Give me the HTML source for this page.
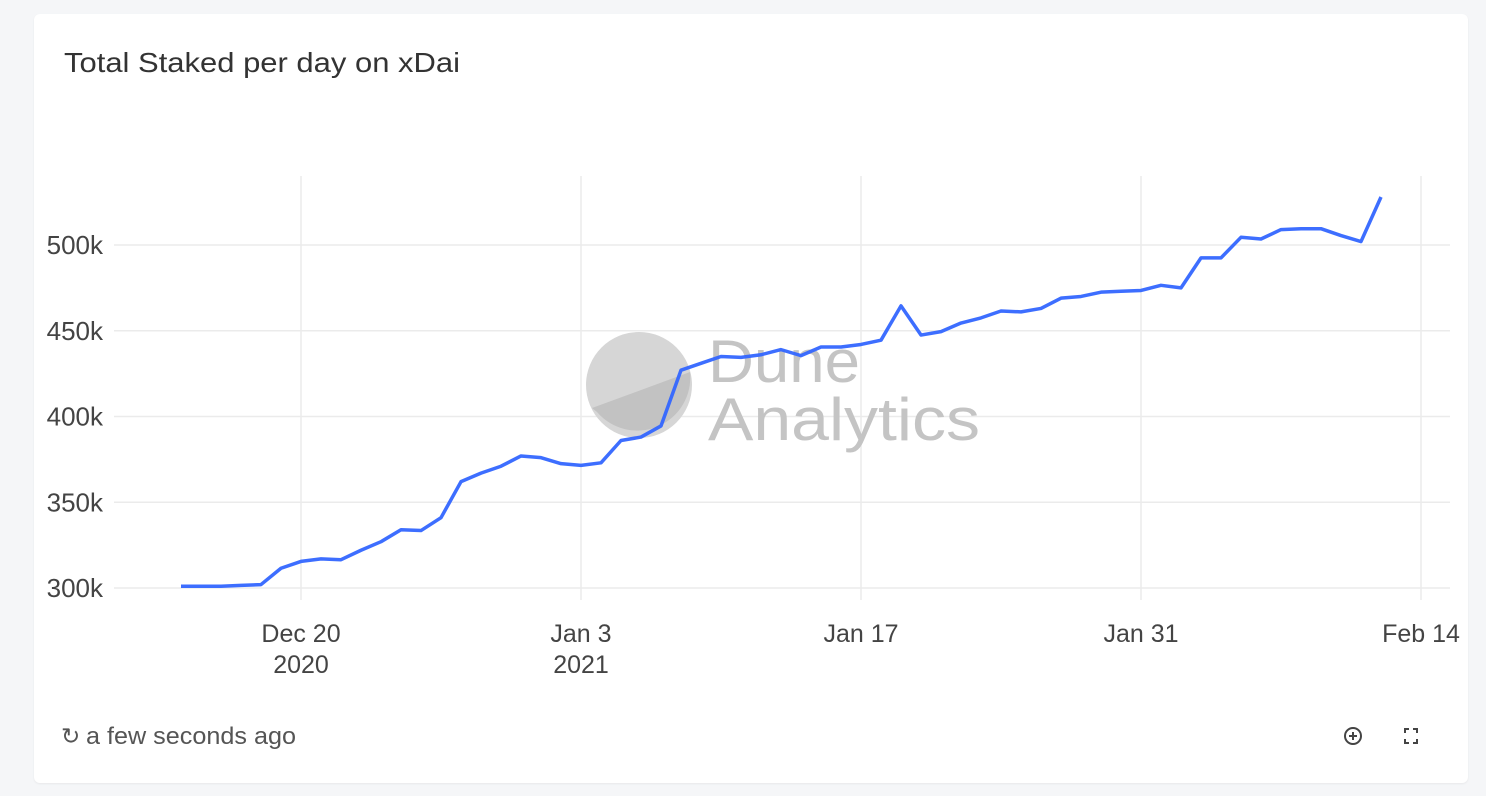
<!DOCTYPE html>
<html><head><meta charset="utf-8"><style>
body{margin:0;width:1486px;height:796px;background:#f5f6f8;font-family:"Liberation Sans",sans-serif;overflow:hidden}
#card{position:absolute;left:34px;top:14px;width:1434px;height:769px;background:#fff;border-radius:6px;box-shadow:0 1px 2px rgba(0,0,0,.06)}
</style></head><body>
<div id="card"></div>
<svg id="chart" width="1486" height="796" style="position:absolute;left:0;top:0">
<text x="64" y="72" font-size="28" fill="#333" font-family="Liberation Sans" textLength="396" lengthAdjust="spacingAndGlyphs">Total Staked per day on xDai</text>
<text x="61" y="744" font-size="23" fill="#555" font-family="Liberation Sans">↻</text>
<text x="86" y="744" font-size="24" fill="#555" font-family="Liberation Sans" textLength="210" lengthAdjust="spacingAndGlyphs">a few seconds ago</text>
</svg>
<script>
const startDay = 0; // Dec 14 2020
const values = [301,301,301,301.5,302,311.5,315.5,317,316.5,322,327,334,333.5,341,362,367,371,377,376,372.5,371.5,373,386,388,394.5,427,431,435,434.5,436,439,435.5,440.5,440.5,442,444.5,464.5,447.5,449.5,454.5,457.5,461.5,461,463,469,470,472.5,473,473.5,476.5,475,492.5,492.5,504.5,503.5,509,509.5,509.5,505.5,502,528];
const yTicks = [300,350,400,450,500];
const yTickLabels = ["300k","350k","400k","450k","500k"];
const xTickDays = [6,20,34,48,62];
const xTickLabels = [["Dec 20","2020"],["Jan 3","2021"],["Jan 17",""],["Jan 31",""],["Feb 14",""]];
const NS="http://www.w3.org/2000/svg";
const svg=document.getElementById('chart');
const x=d=>181+(d-startDay)*20;
const y=v=>588-(v-300)*1.715;
function mk(t,a,p){const e=document.createElementNS(NS,t);for(const k in a)e.setAttribute(k,a[k]);(p||svg).appendChild(e);return e;}
yTicks.forEach((t,i)=>{
 const l=mk('line',{x1:114,x2:1450,y1:y(t),y2:y(t),stroke:'#ebebeb','stroke-width':1.5});
 
 
 const tx=mk('text',{x:103,y:y(t)+9,'text-anchor':'end','font-size':26,fill:'#444','font-family':'Liberation Sans'});
 tx.textContent=yTickLabels[i];
 
 
});
xTickDays.forEach((d,i)=>{
 const l=mk('line',{x1:x(d),x2:x(d),y1:176,y2:600,stroke:'#ebebeb','stroke-width':1.5});
 
 
 xTickLabels[i].forEach((s,j)=>{ if(!s)return;
  const tx=mk('text',{x:x(d),y:642+j*31,'text-anchor':'middle','font-size':25,fill:'#444','font-family':'Liberation Sans'});
  tx.textContent=s;
  
  
 });
});
const wm=mk('g',{});


mk('circle',{cx:639,cy:385,r:53,fill:'#d6d6d6'},wm);
mk('path',{d:'M592,408 L690,372 A53,53 0 0 1 597,412 Z',fill:'#c2c2c2'},wm);
const t1=mk('text',{x:708,y:382,'font-size':60,fill:'#c4c4c4','font-family':'Liberation Sans',textLength:152,lengthAdjust:'spacingAndGlyphs'},wm);t1.textContent='Dune';
const t2=mk('text',{x:708,y:440,'font-size':60,fill:'#c4c4c4','font-family':'Liberation Sans',textLength:272,lengthAdjust:'spacingAndGlyphs'},wm);t2.textContent='Analytics';
const p=mk('polyline',{points:values.map((v,i)=>x(startDay+i)+','+y(v)).join(' '),fill:'none',stroke:'#3366ff','stroke-width':3.5,'stroke-linejoin':'round',opacity:0.95});


const z=mk('g',{});


mk('circle',{cx:1353,cy:736,r:8,fill:'none',stroke:'#444','stroke-width':2},z);
mk('path',{d:'M1349,736h8M1353,732v8',stroke:'#444','stroke-width':2},z);
const f=mk('path',{d:'M1405,733v-4h4M1413,729h4v4M1417,739v4h-4M1409,743h-4v-4',fill:'none',stroke:'#444','stroke-width':2});


</script>
</body></html>
